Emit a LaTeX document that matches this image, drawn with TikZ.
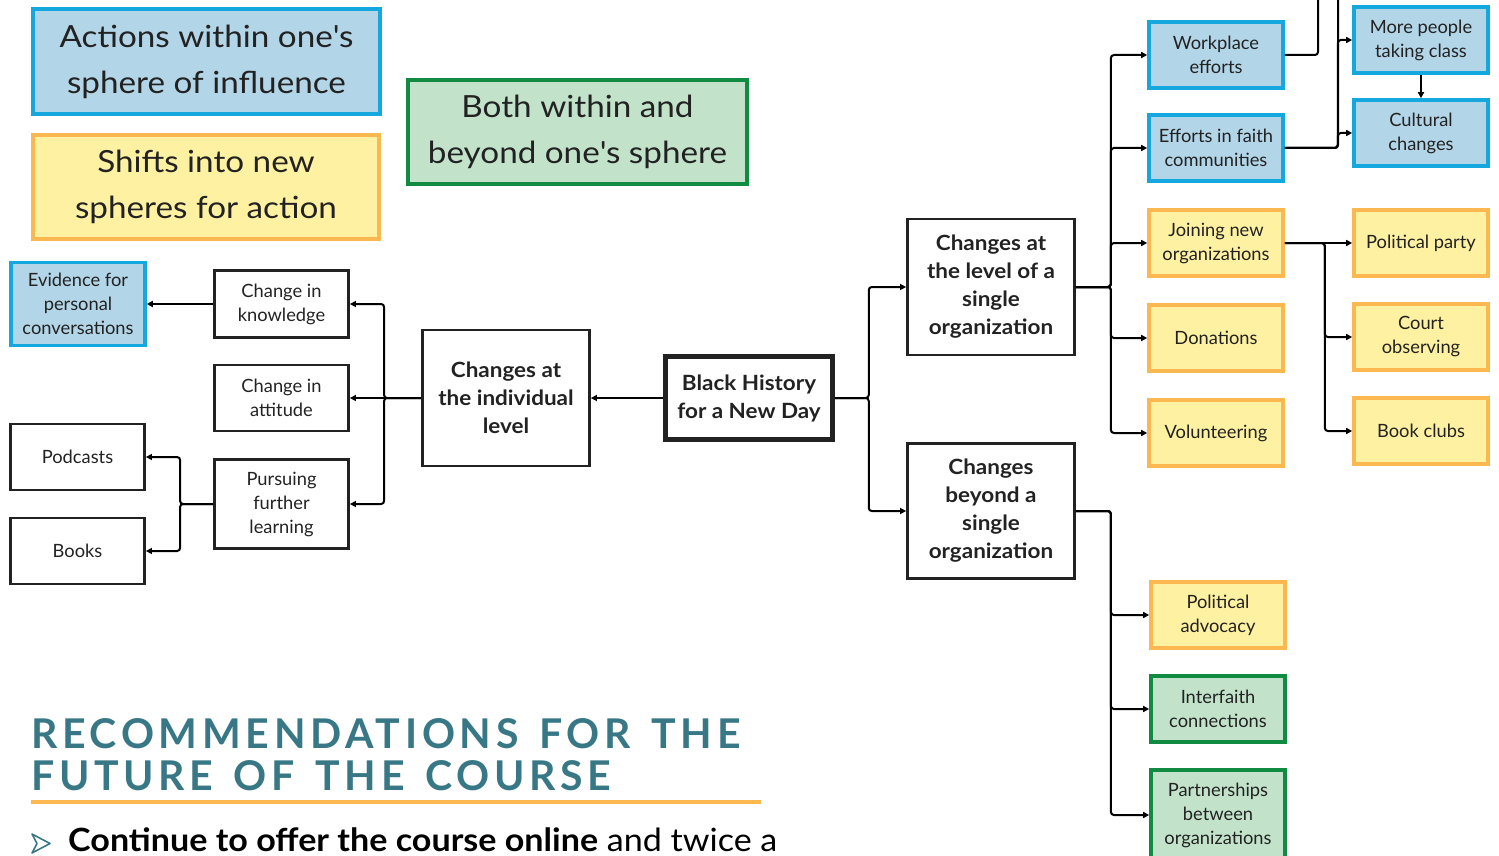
\documentclass[tikz,border=0pt]{standalone}
\usepackage{fontspec}
\setmainfont{Lato}
\newfontfamily\headfont[LetterSpace=11.5,WordSpace=1.4]{Lato}
\newfontfamily\legfont[FakeStretch=1.09]{Lato}
\newfontfamily\widefont[FakeStretch=1.07]{Lato}
\newfontfamily\contfont[FakeStretch=1.065]{Lato}
\usetikzlibrary{arrows.meta}
\definecolor{bluefill}{HTML}{B3D5E8}
\definecolor{blueline}{HTML}{14A8DF}
\definecolor{yelfill}{HTML}{FEF1A2}
\definecolor{yelline}{HTML}{FCB850}
\definecolor{grnfill}{HTML}{C2E3CA}
\definecolor{grnline}{HTML}{118A42}
\definecolor{teal}{HTML}{387886}
\definecolor{txt}{HTML}{222222}
\tikzset{
  base/.style={rectangle, align=center, inner sep=2pt, text=txt},
  plain/.style={base, draw=txt, line width=2.8pt, font=\fontsize{18.3}{24}\selectfont},
  boldbox/.style={base, draw=txt, line width=2.8pt, font=\widefont\fontsize{21}{28}\selectfont\bfseries},
  bluebox/.style={base, draw=blueline, fill=bluefill, line width=3.6pt, font=\fontsize{18.3}{24}\selectfont},
  yelbox/.style={base, draw=yelline, fill=yelfill, line width=3.6pt, font=\fontsize{18.3}{24}\selectfont},
  grnbox/.style={base, draw=grnline, fill=grnfill, line width=3.6pt, font=\fontsize{18.3}{24}\selectfont},
  legend/.style={font=\legfont\fontsize{30.5}{46}\selectfont, line width=4pt},
  sz/.style n args={2}{minimum width=#1, minimum height=#2},
  conn/.style={draw=black, line width=2pt, rounded corners=3pt},
  arr/.style={conn, -{Triangle[length=6pt,width=6pt]}}
}
\begin{document}
\begin{tikzpicture}[x=1pt,y=-1pt]
\useasboundingbox (0,0) rectangle (1499,856);
% legend
\node[bluebox, legend, sz={347pt}{105pt}] (leg1) at (206.5,61.5) {Actions within one\textquotesingle s\\sphere of influence};
\node[yelbox, legend, sz={346pt}{104pt}] (leg2) at (206,187) {Shifts into new\\spheres for action};
\node[grnbox, legend, sz={339pt}{104pt}] (leg3) at (577.5,132) {Both within and\\beyond one\textquotesingle s sphere};
% left tree
\node[bluebox, sz={134pt}{83pt}] (evid) at (78,304) {Evidence for\\personal\\conversations};
\node[plain, sz={134pt}{67pt}] (know) at (281.5,304) {Change in\\knowledge};
\node[plain, sz={134pt}{66pt}] (att) at (281.5,398) {Change in\\attitude};
\node[plain, sz={134pt}{89pt}] (purs) at (281.5,504) {Pursuing\\further\\learning};
\node[plain, sz={134pt}{66pt}] (pod) at (77.5,457) {Podcasts};
\node[plain, sz={134pt}{66pt}] (books) at (77.5,551) {Books};
\node[boldbox, sz={167pt}{136pt}] (indiv) at (506,398) {Changes at\\the individual\\level};
\node[boldbox, line width=4.5pt, sz={167pt}{83pt}] (bh) at (749,398) {Black History\\for a New Day};
\node[boldbox, sz={167pt}{136pt}] (single) at (991,287) {Changes at\\the level of a\\single\\organization};
\node[boldbox, sz={167pt}{135pt}] (beyond) at (991,511) {Changes\\beyond a\\single\\organization};
% right column 1
\node[bluebox, sz={134pt}{66pt}] (work) at (1216,55) {Workplace\\efforts};
\node[bluebox, sz={134pt}{66pt}] (faith) at (1216,148) {Efforts in faith\\communities};
\node[yelbox, sz={134pt}{66pt}] (join) at (1216,243) {Joining new\\organizations};
\node[yelbox, sz={134pt}{66pt}] (don) at (1216,338) {Donations};
\node[yelbox, sz={134pt}{66pt}] (vol) at (1216,433) {Volunteering};
% right column 2
\node[bluebox, sz={134pt}{66pt}] (more) at (1421,40) {More people\\taking class};
\node[bluebox, sz={134pt}{66pt}] (cult) at (1421,133) {Cultural\\changes};
\node[yelbox, sz={134pt}{66pt}] (party) at (1421,243) {Political party};
\node[yelbox, sz={134pt}{66pt}] (court) at (1421,337) {Court\\observing};
\node[yelbox, sz={134pt}{66pt}] (bookc) at (1421,431) {Book clubs};
% beyond branch
\node[yelbox, sz={134pt}{66pt}] (adv) at (1218,615) {Political\\advocacy};
\node[grnbox, sz={134pt}{66pt}] (inter) at (1218,709) {Interfaith\\connections};
\node[grnbox, sz={134pt}{90pt}] (part) at (1218,815) {Partnerships\\between\\organizations};
\coordinate (wtop) at (1318,-10);
\coordinate (ftop) at (1338,-10);
% connectors
\draw[arr] (bh.west) -- (indiv.east);
\draw[arr] (bh.east) -- ++(34,0) |- (single.west);
\draw[arr] (bh.east) -- ++(34,0) |- (beyond.west);
\draw[arr] (indiv.west) -- (att.east);
\draw[arr] (indiv.west) -- ++(-37,0) |- (know.east);
\draw[arr] (indiv.west) -- ++(-37,0) |- (purs.east);
\draw[arr] (know.west) -- (evid.east);
\draw[arr] (purs.west) -- ++(-33,0) |- (pod.east);
\draw[arr] (purs.west) -- ++(-33,0) |- (books.east);
\foreach \t in {work,faith,join,don,vol}
  \draw[arr] (single.east) -- ++(35,0) |- (\t.west);
\foreach \t in {adv,inter,part}
  \draw[arr] (beyond.east) -- ++(35,0) |- (\t.west);
\draw[arr] (join.east) -- (party.west);
\draw[arr] (join.east) -- ++(40,0) |- (court.west);
\draw[arr] (join.east) -- ++(40,0) |- (bookc.west);
\draw[conn] (work.east) -| (wtop);
\draw[conn] (faith.east) -| (ftop);
\draw[arr] (faith.east) -- ++(53,0) |- (more.west);
\draw[arr] (faith.east) -- ++(53,0) |- (cult.west);
\draw[arr] (more.south) -- (cult.north);
% bottom heading
\node[anchor=base west, inner sep=0, text=teal, font=\headfont\bfseries\fontsize{41}{42}\selectfont] (h1) at (31,748) {RECOMMENDATIONS FOR THE};
\node[anchor=base west, inner sep=0, text=teal, font=\headfont\bfseries\fontsize{41}{42}\selectfont] (h2) at (31,790) {FUTURE OF THE COURSE};
\draw[line width=4pt, draw=yelline] (31,802) -- (761,802);
\draw[teal, line width=1.6pt, line join=round] (32,834) -- (50,843.5) -- (32,853) -- (37,843.5) -- cycle;
\node[anchor=base west, inner sep=0, text=black, font=\contfont\fontsize{32}{34}\selectfont] (cont) at (68,851) {\textbf{Continue to offer the course online} and twice a};
\end{tikzpicture}
\end{document}
